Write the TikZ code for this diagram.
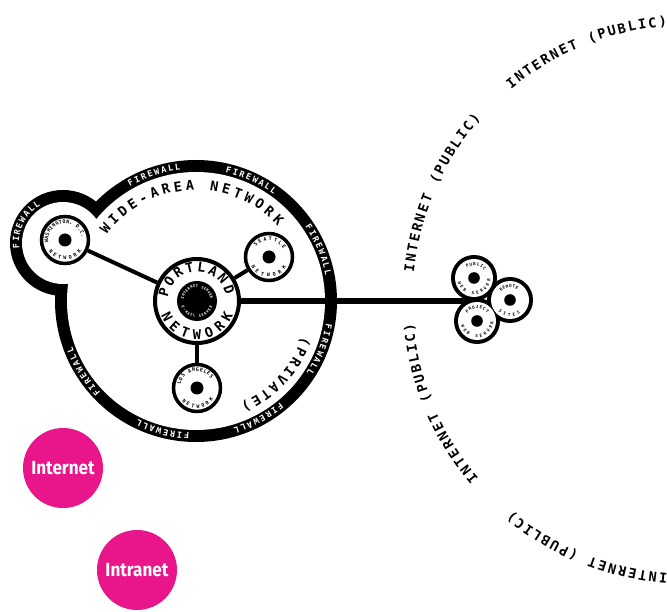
\documentclass[tikz,border=0pt]{standalone}
\usepackage{fontspec}
\setmonofont{DejaVu Sans Mono}
\newfontfamily\tagfont[FakeStretch=0.9]{Fira Sans}
\usetikzlibrary{calc}
\definecolor{hotpink}{RGB}{233,22,139}

% letters one by one round an arc: name, centre, baseline radius,
% middle angle, step (negative = clockwise), style, letters
\newcommand\arctext[7]{%
  \foreach \ch [count=\k] in {#7} {\xdef\arcn{\k}}%
  \foreach \ch [count=\k from 0] in {#7} {%
    \pgfmathsetmacro\ang{#4+(\k-(\arcn-1)/2)*(#5)}%
    \pgfmathsetmacro\rot{\ang+ifthenelse(#5<0,-90,90)}%
    \node[#6,rotate=\rot,anchor=base,inner sep=0pt] (#1-\k) at ($(#2)+(\ang:#3)$) {\ch};%
  }%
}

\begin{document}
\begin{tikzpicture}[x=1pt,y=1pt,
  hub/.style={circle,draw,line width=4pt,fill=white,minimum size=84pt,inner sep=0pt},
  site/.style={circle,draw,line width=3.5pt,fill=white,minimum size=47pt,inner sep=0pt},
  lobe/.style={circle,fill=black,minimum size=46pt,inner sep=0pt},
  core/.style={circle,fill=black,inner sep=0pt},
  link/.style={line width=4pt},
  trunk/.style={line width=5.5pt},
  blob/.style={circle,fill=hotpink,minimum size=80pt,inner sep=0pt,text=white,
               font=\tagfont\bfseries\fontsize{19}{19}\selectfont},
  fw/.style={text=white,font=\ttfamily\bfseries\fontsize{8.5}{8.5}\selectfont},
  caps/.style={font=\ttfamily\bfseries\fontsize{13.5}{13.5}\selectfont},
  pub/.style={font=\ttfamily\bfseries\fontsize{13.5}{13.5}\selectfont},
  sitetxt/.style={font=\ttfamily\bfseries\fontsize{5}{5}\selectfont},
  wee/.style={font=\ttfamily\bfseries\fontsize{4.2}{4.2}\selectfont},
  srv/.style={text=white,font=\ttfamily\bfseries\fontsize{3.6}{3.6}\selectfont},
]
\useasboundingbox[fill=white] (0,0) rectangle (667,611);

% ---- centres -----------------------------------------------------------
\coordinate (wanc) at (196,310);
\coordinate (dcc) at (63,368);
\coordinate (netc) at (687,311);
\coordinate (clover) at (467.5,310);

% ---- wide-area network and its firewall ring ---------------------------
\fill (wanc) circle[radius=141] (dcc) circle[radius=53];
\fill[white] (wanc) circle[radius=129] (dcc) circle[radius=41];
\foreach \a [count=\i] in {108.4,65.5,22.7,-21.6,-62,-104.5,-147.9}
  {\arctext{fw\i}{wanc}{132}{\a}{-3}{fw}{F,I,R,E,W,A,L,L}}
\arctext{fw8}{dcc}{44}{154}{-8.5}{fw}{F,I,R,E,W,A,L,L}
\arctext{wan}{wanc}{111}{93}{-6.05}{caps}{W,I,D,E,-,A,R,E,A,{ },N,E,T,W,O,R,K}
\arctext{priv}{wanc}{112}{-42.5}{-5.46}{caps}{{(},P,R,I,V,A,T,E,{)}}

% ---- sites -------------------------------------------------------------
\node[hub] (portland) at (197,310) {};
\node[core,minimum size=40pt] (portcore) at (portland) {};
\node[site] (dc) at (65,371) {};
\node[core,minimum size=13pt] (dccore) at (dc) {};
\node[site] (seattle) at (269,354) {};
\node[core,minimum size=13pt] (seacore) at (seattle) {};
\node[site] (la) at (197,223) {};
\node[core,minimum size=13pt] (lacore) at (la) {};

\draw[link] (dc) -- (portland);
\draw[link] (seattle) -- (portland);
\draw[link] (la) -- (portland);
\draw[trunk] (portland) -- (clover);

\arctext{pl}{portland}{29.3}{92.5}{-20.7}{caps}{P,O,R,T,L,A,N,D}
\arctext{pn}{portland}{38.7}{270}{20.7}{caps}{N,E,T,W,O,R,K}
\arctext{is}{portland}{13.5}{90}{-11}{srv}{I,N,T,E,R,N,E,T,{ },S,E,R,V,E,R}
\arctext{es}{portland}{16.5}{270}{11}{srv}{E,-,M,A,I,L,{ },S,E,R,V,E,R}

\arctext{dct}{dc}{16.8}{98.5}{-11.5}{sitetxt}{W,A,S,H,I,N,G,T,O,N,{,},{ },D,.,C,.}
\arctext{dcn}{dc}{20}{270}{17}{sitetxt}{N,E,T,W,O,R,K}
\arctext{sat}{seattle}{16.5}{86}{-17}{sitetxt}{S,E,A,T,T,L,E}
\arctext{san}{seattle}{20}{268}{19}{sitetxt}{N,E,T,W,O,R,K}
\arctext{lat}{la}{16.8}{101}{-12.5}{sitetxt}{L,O,S,{ },A,N,G,E,L,E,S}
\arctext{lan}{la}{20}{273}{16}{sitetxt}{N,E,T,W,O,R,K}

% ---- public servers and remote sites -----------------------------------
\node[lobe] (pubws) at (474,333) {};
\node[lobe] (projws) at (477,290) {};
\node[lobe] (remote) at (510,311) {};
\fill[white] (pubws) circle[radius=19] (projws) circle[radius=19] (remote) circle[radius=19];
\fill (pubws) circle[radius=5.8] (projws) circle[radius=5.8] (remote) circle[radius=5.8];
\arctext{pwt}{pubws}{12.5}{80}{-15.4}{wee}{P,U,B,L,I,C}
\arctext{pwb}{pubws}{16.5}{275}{17}{wee}{W,E,B,{ },S,E,R,V,E,R}
\arctext{rst}{remote}{12.5}{95}{-14}{wee}{R,E,M,O,T,E}
\arctext{rsb}{remote}{16.5}{267}{18.5}{wee}{S,I,T,E,S}
\arctext{pjt}{projws}{12.5}{89}{-15.3}{wee}{P,R,O,J,E,C,T}
\arctext{pjb}{projws}{16.5}{277}{17}{wee}{W,E,B,{ },S,E,R,V,E,R}

% ---- the internet round it ---------------------------------------------
\foreach \a [count=\i] in {112,156.5,202.75,248.1}
  {\arctext{inet\i}{netc}{274.5}{\a}{-2.125}{pub}{I,N,T,E,R,N,E,T,{ },{(},P,U,B,L,I,C,{)}}}

% ---- legend ------------------------------------------------------------
\node[blob] (inet) at (63,143) {Internet};
\node[blob] (intra) at (137,41) {Intranet};
\end{tikzpicture}
\end{document}
